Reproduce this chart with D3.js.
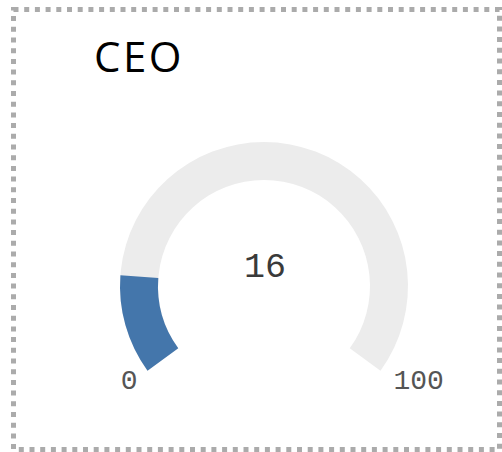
<!DOCTYPE html>
<html>
<head>
<meta charset="utf-8">
<script src="https://cdn.jsdelivr.net/npm/d3@7"></script>
<style>
    html, body { margin: 0; padding: 0; background: #fff; }
    #gauge { width: 502px; height: 452px; }
</style>
</head>
<body>
<div id="gauge"></div>
<script>
// chart data
var titleText = "CEO";
var gaugeDomain = [0, 100];
var gaugeValue = [16];
var tickLabels = ["0", "100"];

(function () {
    "use strict";

    const width = 502,
        height = 452,
        cx = 264,
        cy = 286,
        outerR = 144,
        innerR = 106,
        sweep = 0.7 * Math.PI;

    const svg = d3.select('#gauge').append('svg')
        .attr('width', width)
        .attr('height', height);

    // dotted frame
    svg.append('rect')
        .attr('x', 13.5)
        .attr('y', 9.5)
        .attr('width', 486)
        .attr('height', 440)
        .style('fill', 'none')
        .style('stroke', '#ababab')
        .style('stroke-width', 5)
        .style('stroke-dasharray', '5 5.7');

    svg.append('text')
        .attr('x', 94)
        .attr('y', 72)
        .style('font-family', '"Open Sans", sans-serif')
        .style('font-size', '42px')
        .style('letter-spacing', '2.5px')
        .style('fill', '#000')
        .text(titleText);

    const angle = d3.scaleLinear()
        .domain(gaugeDomain)
        .range([-sweep, sweep])
        .clamp(true);

    const arc = d3.arc()
        .innerRadius(innerR)
        .outerRadius(outerR)
        .startAngle(d => angle(d[0]))
        .endAngle(d => angle(d[1]));

    const g = svg.append('g')
        .attr('transform', `translate(${cx},${cy})`);

    g.append('path')
        .attr('d', arc(gaugeDomain))
        .style('fill', '#ececec');

    g.append('path')
        .attr('d', arc([gaugeDomain[0], gaugeValue[0]]))
        .style('fill', '#4476ab');

    g.append('text')
        .attr('x', 1)
        .attr('y', -9)
        .attr('text-anchor', 'middle')
        .style('font-family', '"Liberation Mono", monospace')
        .style('font-size', '35px')
        .style('fill', '#3a3a3a')
        .text(gaugeValue[0]);

    // min / max labels at the ends of the arc
    const ends = gaugeDomain.map((v, i) => {
        const a = angle(v);
        return {
            label: tickLabels[i],
            x: outerR * Math.sin(a),
            y: -outerR * Math.cos(a),
            side: i === 0 ? -1 : 1
        };
    });

    g.selectAll('text.tick')
        .data(ends)
        .enter().append('text')
        .attr('class', 'tick')
        .attr('x', d => d.x + (d.side < 0 ? -10 : 13))
        .attr('y', d => d.y + 18)
        .attr('text-anchor', d => d.side < 0 ? 'end' : 'start')
        .style('font-family', '"Liberation Mono", monospace')
        .style('font-size', '28px')
        .style('fill', '#555')
        .text(d => d.label);
})();
</script>
</body>
</html>
